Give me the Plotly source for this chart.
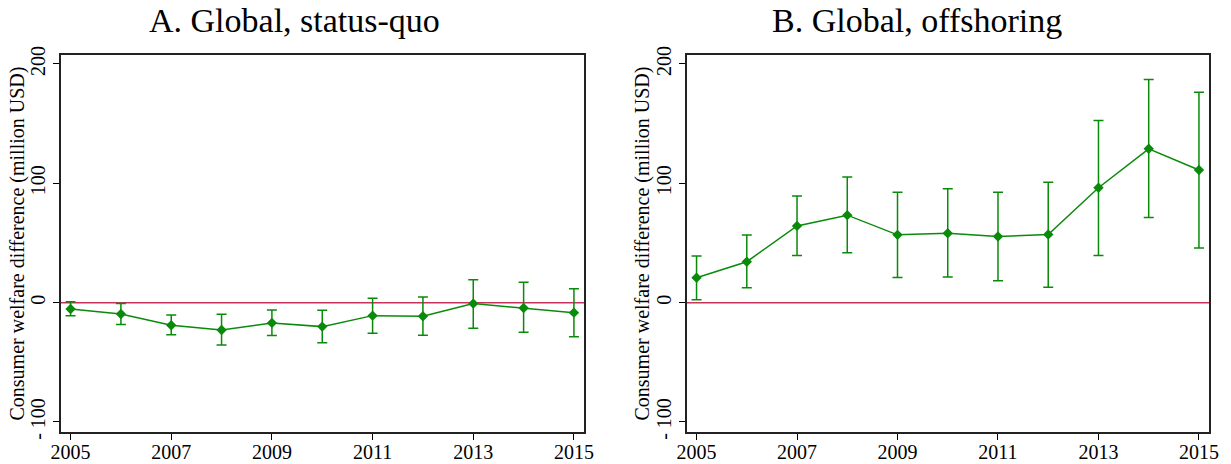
import plotly.graph_objects as go
from plotly.subplots import make_subplots

years = [2005, 2006, 2007, 2008, 2009, 2010, 2011, 2012, 2013, 2014, 2015]

# Panel A: global, status-quo (point estimate, upper and lower CI bounds)
status_quo = [-5.3, -9.5, -19.0, -22.9, -17.0, -20.1, -10.9, -11.4, -0.8, -4.5, -8.4]
status_quo_hi = [0.8, -0.8, -10.3, -9.8, -6.1, -6.4, 3.6, 4.7, 19.2, 17.0, 11.7]
status_quo_lo = [-10.9, -18.4, -27.0, -35.4, -27.6, -33.7, -25.7, -27.3, -21.5, -24.8, -28.5]

# Panel B: global, offshoring
offshoring = [20.9, 34.3, 64.3, 73.3, 56.8, 58.2, 55.4, 57.1, 96.3, 128.9, 111.1]
offshoring_hi = [39.0, 56.6, 89.4, 105.3, 92.5, 95.5, 92.5, 100.8, 152.6, 186.9, 176.3]
offshoring_lo = [2.5, 12.5, 39.5, 41.8, 21.1, 21.4, 18.4, 12.8, 39.5, 71.3, 45.7]

panel_titles = ["A. Global, status-quo", "B. Global, offshoring"]
y_title = "Consumer welfare difference (million USD)"
x_ticks = [2005, 2007, 2009, 2011, 2013, 2015]
y_ticks = [-100, 0, 100, 200]
y_ticktext = ["- 100", "0", "100", "200"]

GREEN = "#0a8a0a"
RED = "#c8325a"
FONT = "Liberation Serif, Times New Roman, serif"
W, H = 1231, 464

fig = make_subplots(rows=1, cols=2, horizontal_spacing=0.08)

panels = [
    (status_quo, status_quo_hi, status_quo_lo),
    (offshoring, offshoring_hi, offshoring_lo),
]
for i, (est, hi, lo) in enumerate(panels, start=1):
    fig.add_trace(
        go.Scatter(
            x=years,
            y=est,
            mode="lines+markers",
            line=dict(color=GREEN, width=1.5),
            marker=dict(symbol="diamond", size=8, color=GREEN),
            error_y=dict(
                type="data",
                symmetric=False,
                array=[h - e for h, e in zip(hi, est)],
                arrayminus=[e - l for e, l in zip(est, lo)],
                color=GREEN,
                thickness=1.5,
                width=5,
            ),
            showlegend=False,
        ),
        row=1,
        col=i,
    )
    fig.add_hline(y=0, line=dict(color=RED, width=1.5), row=1, col=i, layer="below")

x_domains = [[61 / W, 584 / W], [687 / W, 1209 / W]]
y_domain = [1 - 432 / H, 1 - 55 / H]

for i in (1, 2):
    fig.update_xaxes(
        domain=x_domains[i - 1],
        range=[2004.81, 2015.2],
        tickvals=x_ticks,
        ticks="outside",
        ticklen=6,
        tickwidth=1,
        tickcolor="black",
        showline=True,
        linecolor="#222",
        linewidth=1.5,
        mirror=True,
        showgrid=False,
        zeroline=False,
        automargin=False,
        ticklabelstandoff=-5,
        tickfont=dict(family=FONT, size=20, color="black"),
        row=1,
        col=i,
    )
    fig.update_yaxes(
        domain=y_domain,
        range=[-108.4, 207.5],
        tickvals=y_ticks,
        ticktext=y_ticktext,
        tickangle=-90,
        ticks="outside",
        ticklen=6,
        tickwidth=1,
        tickcolor="black",
        showline=True,
        linecolor="#222",
        linewidth=1.5,
        mirror=True,
        showgrid=False,
        zeroline=False,
        automargin=False,
        tickfont=dict(family=FONT, size=20, color="black"),
        ticklabelstandoff=0,
        row=1,
        col=i,
    )

# Panel titles, centred over each half of the figure
for xc, t in zip((294 / W, 917 / W), panel_titles):
    fig.add_annotation(
        x=xc, y=1 - 20 / H, xref="paper", yref="paper",
        text=t, showarrow=False, xanchor="center", yanchor="middle",
        font=dict(family=FONT, size=34, color="black"),
    )

# Vertical axis titles, one per panel
y_mid = (y_domain[0] + y_domain[1]) / 2
for xc in (17 / W, 642 / W):
    fig.add_annotation(
        x=xc, y=y_mid, xref="paper", yref="paper",
        text=y_title, showarrow=False, textangle=-90,
        xanchor="center", yanchor="middle",
        font=dict(family=FONT, size=20, color="black"),
    )

fig.update_layout(
    width=W,
    height=H,
    margin=dict(l=0, r=0, t=0, b=0),
    paper_bgcolor="white",
    plot_bgcolor="white",
)

fig.write_html("out.html")
